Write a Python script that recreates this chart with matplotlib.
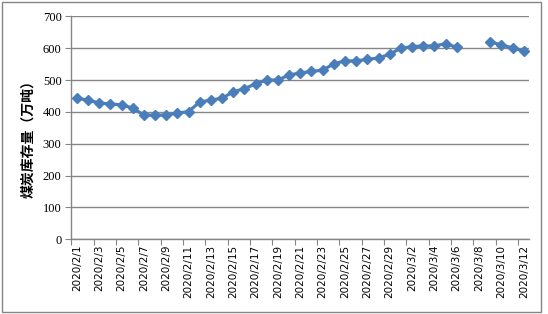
import numpy as np
import matplotlib
matplotlib.use('Agg')
import matplotlib.pyplot as plt
from matplotlib.patches import Rectangle

# data, 2020/2/1 .. 2020/3/12, 3/7 and 3/8 missing
dates = ['2020/2/' + str(d) for d in range(1, 30)] + ['2020/3/' + str(d) for d in range(1, 13)]
stock = [443, 437, 428, 425, 422, 412, 390, 390, 390, 396,
         401, 431, 437, 443, 463, 473, 488, 500, 500, 516,
         522, 527, 531, 551, 560, 560, 565, 569, 581, 600,
         605, 607, 607, 614, 603, np.nan, np.nan, 620, 610, 601,
         591]
y_ticks = [0, 100, 200, 300, 400, 500, 600, 700]
y_label = '煤炭库存量（万吨）'

x = np.arange(len(dates))

fig = plt.figure(figsize=(5.48, 3.14), dpi=100)
ax = fig.add_axes([0.130, 0.238, 0.836, 0.710])

ax.plot(x, stock, color='#4a7ebb', lw=2.3, marker='D', ms=5,
        markeredgecolor='#4a7ebb', markerfacecolor='#4a7ebb', zorder=3)

ax.set_xlim(-0.5, len(dates) - 0.5)
ax.set_ylim(0, 700)

# y axis
ax.set_yticks(y_ticks)
ax.set_yticklabels([str(v) for v in y_ticks], fontfamily='Liberation Serif', fontsize=9)
ax.yaxis.grid(True, color='#868686', lw=1)
ax.set_axisbelow(True)

# x axis: ticks between categories, labels every other day
ax.set_xticks(np.arange(-0.5, len(dates) - 0.5, 2))
ax.set_xticklabels([])
ax.set_xticks(x[::2], minor=True)
ax.set_xticklabels(dates[::2], minor=True, rotation=90, fontsize=7.5,
                   fontfamily='DejaVu Sans')
ax.tick_params(axis='x', which='minor', length=0, pad=4)
ax.tick_params(axis='x', which='major', length=4, color='#868686')
ax.tick_params(axis='y', length=4, color='#868686', pad=3)

for s in ['top', 'right']:
    ax.spines[s].set_visible(False)
for s in ['left', 'bottom']:
    ax.spines[s].set_color('#868686')
    ax.spines[s].set_linewidth(1)

fig.text(0.051, 0.567, y_label, rotation=90, ha='center', va='center',
         fontsize=10, fontweight='bold', family=['Noto Sans CJK SC', 'DejaVu Sans'])

# outer chart border
fig.patches.append(Rectangle((0.003, 0.007), 0.984, 0.987, transform=fig.transFigure,
                             fill=False, edgecolor='#868686', lw=1))

fig.savefig('out.png', dpi=100)
